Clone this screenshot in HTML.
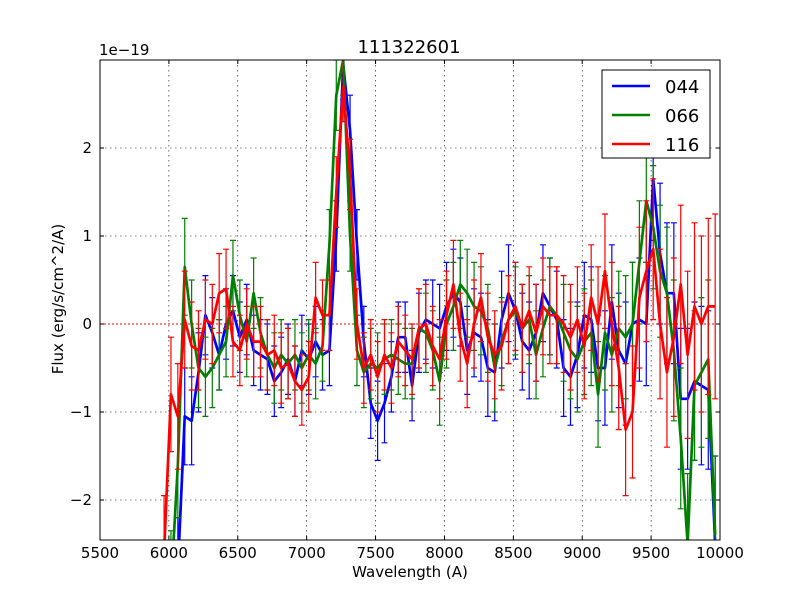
<!DOCTYPE html>
<html><head><meta charset="utf-8"><style>
html,body{margin:0;padding:0;background:#fff;width:800px;height:600px;overflow:hidden;}
svg{display:block;font-family:"DejaVu Sans","Liberation Sans",sans-serif;}
</style></head><body>
<svg id="chart" width="800" height="600" viewBox="0 0 800 600" xmlns="http://www.w3.org/2000/svg">
<rect x="0" y="0" width="800" height="600" fill="#fff"/>
<defs><clipPath id="clip"><rect x="100" y="60" width="620" height="480"/></clipPath></defs>
<g id="grid"></g>
<g id="series" clip-path="url(#clip)"></g>
<rect x="100" y="60" width="620" height="480" fill="none" stroke="#000" stroke-width="1"/>
<g id="ticks"></g>
<text x="409" y="53" text-anchor="middle" font-size="18">111322601</text>
<text x="99" y="55" font-size="15">1e−19</text>
<text x="410" y="577" text-anchor="middle" font-size="15">Wavelength (A)</text>
<text transform="translate(63,299) rotate(-90)" text-anchor="middle" font-size="15">Flux (erg/s/cm^2/A)</text>
<g>
<rect x="602" y="70" width="108" height="88" fill="#fff" stroke="#000"/>
<line x1="612" y1="86" x2="650" y2="86" stroke="#0000ff" stroke-width="2.5"/>
<text x="665" y="93" font-size="18">044</text>
<line x1="612" y1="115" x2="650" y2="115" stroke="#008000" stroke-width="2.5"/>
<text x="665" y="122" font-size="18">066</text>
<line x1="612" y1="144" x2="650" y2="144" stroke="#ff0000" stroke-width="2.5"/>
<text x="665" y="151" font-size="18">116</text>
</g>
</svg>
<script>
const wavelengths = [5965,6015,6065,6115,6165,6215,6265,6315,6365,6415,6465,6515,6565,6615,6665,6715,6765,6815,6865,6915,6965,7015,7065,7115,7165,7215,7265,7315,7365,7415,7465,7515,7565,7615,7665,7715,7765,7815,7865,7915,7965,8015,8065,8115,8165,8215,8265,8315,8365,8415,8465,8515,8565,8615,8665,8715,8765,8815,8865,8915,8965,9015,9065,9115,9165,9215,9265,9315,9365,9415,9465,9515,9565,9615,9665,9715,9765,9815,9865,9915,9965];
const flux044 = [-4,-4,-2.8,-1.05,-1.1,-0.55,0.1,-0.1,-0.35,0.0,0.15,-0.15,0.05,-0.3,-0.35,-0.4,-0.65,-0.55,-0.4,-0.65,-0.3,-0.4,-0.2,-0.35,-0.3,1.0,2.95,2.2,0.9,-0.2,-0.9,-1.1,-0.9,-0.6,-0.15,-0.15,-0.7,-0.1,0.05,0.0,-0.05,0.2,0.35,0.25,-0.3,-0.1,-0.15,-0.5,-0.55,0.05,0.35,0.15,-0.2,-0.3,-0.1,0.35,0.2,0.05,-0.5,-0.6,-0.35,0.1,0.05,-0.5,-0.5,0.25,-0.3,-0.45,0.0,0.05,0.0,1.65,0.8,0.35,0.35,-0.85,-0.85,-0.65,-0.7,-0.75,-2.5];
const flux066 = [-4,-3,-1.6,0.65,0.0,-0.5,-0.6,-0.5,-0.35,-0.2,0.55,0.1,-0.2,0.35,-0.1,-0.35,-0.5,-0.35,-0.45,-0.35,-0.5,-0.35,-0.45,-0.25,0.9,2.6,3.0,1.0,-0.3,-0.55,-0.45,-0.5,-0.4,-0.35,-0.4,-0.45,-0.45,-0.05,-0.1,-0.3,-0.65,0.0,0.2,0.45,0.35,0.2,0.15,-0.05,-0.5,-0.2,0.05,0.15,-0.05,0.05,-0.35,-0.05,0.2,0.1,-0.1,-0.3,-0.4,-0.2,-0.1,-0.8,-0.1,-0.35,-0.05,-0.15,0.0,0.7,1.4,1.1,0.6,0.35,-0.3,-1.3,-2.5,-0.7,-0.55,-0.4,-2.4];
const flux116 = [-2.6,-0.8,-1.05,0.05,-0.25,-0.3,0.05,0.0,0.35,0.4,-0.2,-0.3,0.0,-0.2,-0.2,-0.35,-0.3,-0.5,-0.45,-0.65,-0.75,-0.6,0.3,0.1,0.1,1.5,2.7,1.7,0.0,-0.5,-0.35,-0.6,-0.35,-0.5,-0.2,-0.3,-0.4,-0.05,0.0,-0.25,-0.4,0.1,0.45,-0.15,-0.45,0.0,0.3,-0.15,-0.35,-0.25,0.05,0.2,-0.05,0.15,-0.1,0.2,0.1,0.1,0.0,-0.15,0.05,-0.25,0.3,0.0,0.6,0.0,-0.5,-1.2,-1.0,0.3,0.6,0.85,0.0,-0.55,-0.15,0.45,-0.35,0.2,0.0,0.2,0.2];
const err044 = [0.65,0.65,0.6,0.55,0.5,0.45,0.45,0.4,0.4,0.4,0.4,0.4,0.4,0.4,0.4,0.4,0.4,0.4,0.4,0.4,0.4,0.4,0.4,0.4,0.4,0.4,0.4,0.4,0.4,0.4,0.4,0.45,0.45,0.4,0.4,0.4,0.4,0.45,0.45,0.5,0.5,0.5,0.5,0.5,0.5,0.5,0.5,0.55,0.55,0.55,0.55,0.55,0.55,0.55,0.55,0.55,0.55,0.55,0.55,0.55,0.6,0.6,0.6,0.6,0.65,0.65,0.65,0.7,0.7,0.7,0.7,0.7,0.8,0.8,0.8,0.8,0.8,0.9,0.9,0.9,1.0];
const err066 = [0.65,0.65,0.6,0.55,0.5,0.45,0.45,0.45,0.4,0.4,0.4,0.4,0.4,0.4,0.4,0.4,0.4,0.4,0.4,0.4,0.4,0.4,0.4,0.4,0.4,0.4,0.4,0.4,0.4,0.4,0.4,0.4,0.4,0.4,0.4,0.4,0.4,0.45,0.45,0.45,0.5,0.5,0.5,0.5,0.5,0.5,0.5,0.5,0.5,0.5,0.5,0.5,0.5,0.5,0.5,0.55,0.55,0.55,0.55,0.55,0.6,0.6,0.6,0.6,0.65,0.65,0.65,0.7,0.7,0.7,0.7,0.7,0.75,0.75,0.8,0.8,0.8,0.85,0.85,0.9,0.9];
const err116 = [0.65,0.65,0.6,0.55,0.5,0.45,0.45,0.45,0.45,0.45,0.4,0.4,0.4,0.4,0.4,0.4,0.4,0.4,0.4,0.4,0.4,0.4,0.4,0.4,0.4,0.4,0.4,0.4,0.4,0.4,0.4,0.4,0.4,0.4,0.4,0.4,0.4,0.45,0.45,0.45,0.45,0.5,0.5,0.5,0.5,0.5,0.5,0.5,0.5,0.5,0.5,0.5,0.5,0.5,0.55,0.55,0.55,0.55,0.55,0.6,0.6,0.6,0.6,0.65,0.65,0.7,0.7,0.75,0.75,0.8,0.8,0.8,0.85,0.85,0.9,0.9,0.95,0.95,1.0,1.0,1.05];
const xTicks = [5500,6000,6500,7000,7500,8000,8500,9000,9500,10000];
const yTicks = [-2,-1,0,1,2];

const NS = "http://www.w3.org/2000/svg";
const X0=100, X1=720, Y0=60, Y1=540, XMIN=5500, XMAX=10000, YMIN=-2.4545, YMAX=3.0;
function xs(w){return X0+(w-XMIN)/(XMAX-XMIN)*(X1-X0);}
function ys(v){return Y1-(v-YMIN)/(YMAX-YMIN)*(Y1-Y0);}
function mk(tag,attrs,parent){const e=document.createElementNS(NS,tag);for(const k in attrs)e.setAttribute(k,attrs[k]);parent.appendChild(e);return e;}

const grid=document.getElementById('grid'), ticks=document.getElementById('ticks'), series=document.getElementById('series');
xTicks.forEach(t=>{
  const x=xs(t);
  if(t>XMIN&&t<XMAX){const g=mk('line',{x1:x,y1:Y0,x2:x,y2:Y1,stroke:'#000','stroke-width':0.6,'stroke-dasharray':'1.5,3.5'},grid);
  
  }
  const tk=mk('path',{d:`M${x},${Y1}v-4M${x},${Y0}v4`,stroke:'#000'},ticks);
  
  
  const lb=mk('text',{x:x,y:Y1+18,'text-anchor':'middle','font-size':15},ticks);
  lb.textContent=t;
  
  
});
yTicks.forEach(t=>{
  const y=ys(t);
  if(t!==0){const g=mk('line',{x1:X0,y1:y,x2:X1,y2:y,stroke:'#000','stroke-width':0.6,'stroke-dasharray':'1.5,3.5'},grid);
  
  }
  const tk=mk('path',{d:`M${X0},${y}h4M${X1},${y}h-4`,stroke:'#000'},ticks);
  
  
  const lb=mk('text',{x:X0-8,y:y+5,'text-anchor':'end','font-size':15},ticks);
  lb.textContent=(t<0?'\u2212'+(-t):t);
  
  
});
const zl=mk('line',{x1:X0,y1:ys(0),x2:X1,y2:ys(0),stroke:'#ff0000','stroke-width':1,'stroke-dasharray':'2,2'},grid);



function drawSeries(vals,errs,color,name){
  const g=mk('g',{},series);
  
  
  let d='';
  vals.forEach((v,i)=>{
    const x=xs(wavelengths[i]), yt=ys(v+errs[i]), yb=ys(v-errs[i]);
    d+=`M${x},${yt}V${yb}M${x-3},${yt}h6M${x-3},${yb}h6`;
  });
  const eb=mk('path',{d:d,stroke:color,'stroke-width':1.2,fill:'none'},g);
  
  
  const pts=vals.map((v,i)=>xs(wavelengths[i])+','+ys(v)).join(' ');
  const ln=mk('polyline',{points:pts,stroke:color,'stroke-width':2.7,fill:'none','stroke-linejoin':'round'},g);
  
  
}
drawSeries(flux044,err044,'#0000ff','044');
drawSeries(flux066,err066,'#008000','066');
drawSeries(flux116,err116,'#ff0000','116');
</script>
</body></html>
